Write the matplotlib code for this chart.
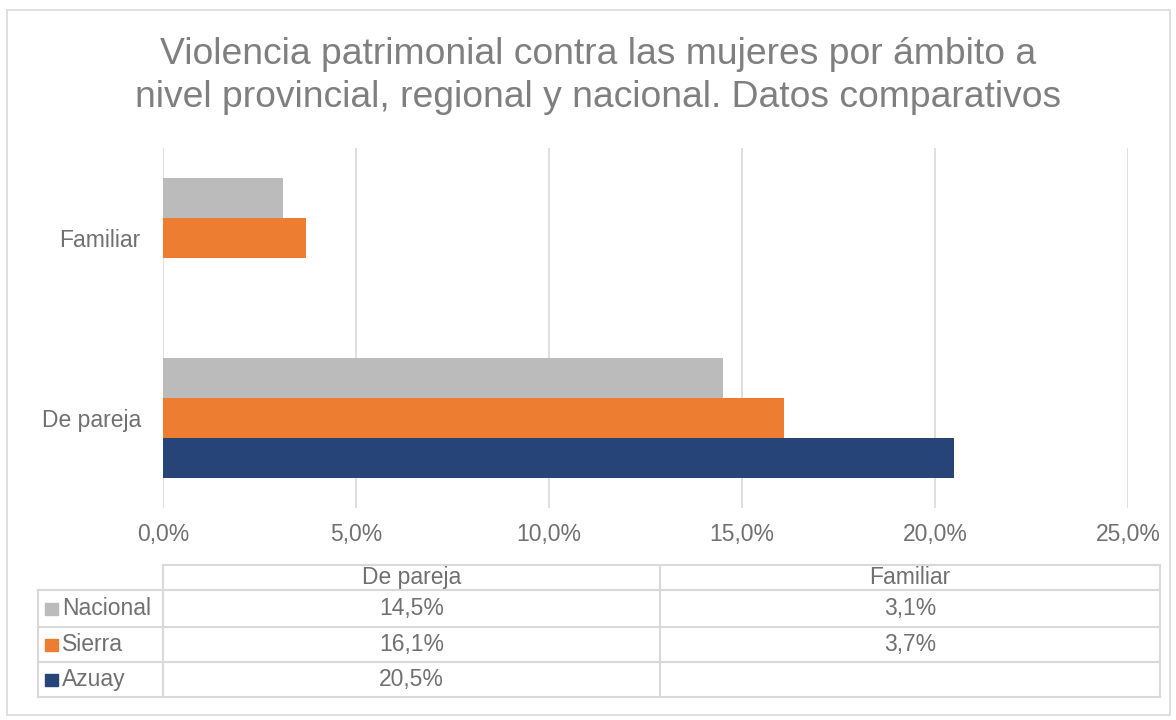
import matplotlib
matplotlib.use("Agg")
import matplotlib.pyplot as plt
from matplotlib.lines import Line2D
from matplotlib.patches import Rectangle
import numpy as np

categories = ["De pareja", "Familiar"]
series = ["Nacional", "Sierra", "Azuay"]
nacional = [14.5, 3.1]
sierra = [16.1, 3.7]
azuay = [20.5, None]
colors = ["#BBBBBB", "#ED7D31", "#264478"]
xticks = [0, 5, 10, 15, 20, 25]

plt.rcParams['font.family'] = ['Liberation Sans', 'DejaVu Sans']
W, H = 1176, 720
fig = plt.figure(figsize=(W / 100, H / 100), dpi=100)

def fx(px):
    return px / W

def fy(py):
    return 1 - py / H

# outer border
fig.add_artist(Rectangle((fx(7), fy(715)), fx(1170) - fx(7), fy(10) - fy(715),
                         transform=fig.transFigure, fill=False, ec="#D9D9D9", lw=1.2))

ax = fig.add_axes([fx(163), fy(508), fx(1128) - fx(163), fy(148) - fy(508)])
y = np.arange(len(categories))
h = 0.222
data = [nacional, sierra, azuay]
offsets = [h, 0, -h]
for vals, c, off in zip(data, colors, offsets):
    v = [np.nan if x is None else x for x in vals]
    ax.barh(y + off, v, height=h, color=c, zorder=3)

tc = "#707070"
fs = 16.5
ax.set_xlim(0, 25)
ax.set_ylim(-0.5, 1.5)
ax.set_xticks(xticks)
ax.set_xticklabels([f"{t:.1f}%".replace(".", ",") for t in xticks])
ax.set_yticks(y)
ax.set_yticklabels(categories)
ax.tick_params(axis="both", length=0, colors=tc, labelsize=fs)
ax.tick_params(axis="x", pad=11)
ax.tick_params(axis="y", pad=16)
ax.grid(axis="x", color="#D9D9D9", lw=1.2, zorder=0)
for s in ax.spines.values():
    s.set_visible(False)

fig.text(fx(598), fy(76), "Violencia patrimonial contra las mujeres por ámbito a\nnivel provincial, regional y nacional. Datos comparativos",
         ha="center", va="center", fontsize=26.8, color="#7F7F7F", linespacing=1.32)

# data table
lc = "#D9D9D9"
xs = [38, 163, 660, 1160]
ys = [565, 590, 627, 662, 697]
fig.add_artist(Line2D([fx(163), fx(1160)], [fy(565), fy(565)], color=lc, lw=1.5))
for yy in ys[1:]:
    fig.add_artist(Line2D([fx(38), fx(1160)], [fy(yy), fy(yy)], color=lc, lw=1.5))
fig.add_artist(Line2D([fx(38), fx(38)], [fy(590), fy(697)], color=lc, lw=1.5))
for xx in xs[1:]:
    fig.add_artist(Line2D([fx(xx), fx(xx)], [fy(565), fy(697)], color=lc, lw=1.5))

for j, cat in enumerate(categories):
    cx = (xs[j + 1] + xs[j + 2]) / 2
    fig.text(fx(cx), fy((ys[0] + ys[1]) / 2), cat, ha="center", va="center", fontsize=fs, color=tc)
for i, (name, vals, c) in enumerate(zip(series, data, colors)):
    cy = (ys[i + 1] + ys[i + 2]) / 2
    fig.add_artist(Rectangle((fx(45), fy(cy + 6)), fx(13), fy(cy - 6) - fy(cy + 6),
                             transform=fig.transFigure, color=c))
    fig.text(fx(62), fy(cy), name, ha="left", va="center", fontsize=fs, color=tc)
    for j, v in enumerate(vals):
        if v is None:
            continue
        cx = (xs[j + 1] + xs[j + 2]) / 2
        fig.text(fx(cx), fy(cy), f"{v:.1f}%".replace(".", ","), ha="center", va="center",
                 fontsize=fs, color=tc)

fig.savefig("out.png", dpi=100)
